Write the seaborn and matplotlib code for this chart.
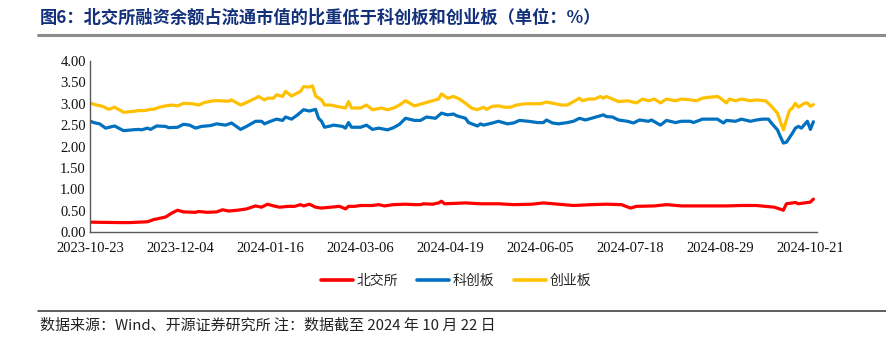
import matplotlib
matplotlib.use("Agg")
import matplotlib.pyplot as plt
import numpy as np
import pandas as pd
import seaborn as sns
from matplotlib.lines import Line2D
from matplotlib.font_manager import FontProperties

# ---------------- data (trading-day index, ratio in %) ----------------
tick_labels = ["2023-10-23", "2023-12-04", "2024-01-16", "2024-03-06", "2024-04-19",
               "2024-06-05", "2024-07-18", "2024-08-29", "2024-10-21"]
tick_positions = [0, 30, 60, 90, 120, 150, 180, 210, 240]
y_ticks = [0.0, 0.5, 1.0, 1.5, 2.0, 2.5, 3.0, 3.5, 4.0]
series_names = ["北交所", "科创板", "创业板"]

bjs_idx = [0, 10, 13, 19, 21, 25, 27, 29, 31, 35, 36, 39, 42, 44, 46, 49, 52, 55, 57, 59,
           61, 63, 66, 68, 70, 71, 73, 75, 77, 80, 83, 85, 86, 88, 90, 94, 96, 98, 101, 105,
           108, 110, 111, 114, 116, 117, 118, 125, 130, 136, 141, 147, 151, 156, 161, 167,
           172, 177, 180, 182, 188, 192, 197, 204, 208, 212, 217, 222, 228, 231, 232, 235,
           236, 240, 241]
bjs_val = [0.23, 0.22, 0.22, 0.24, 0.29, 0.35, 0.44, 0.51, 0.47, 0.46, 0.48, 0.46, 0.47, 0.52,
           0.49, 0.51, 0.54, 0.61, 0.58, 0.65, 0.61, 0.58, 0.60, 0.60, 0.64, 0.61, 0.65, 0.58,
           0.56, 0.58, 0.60, 0.54, 0.60, 0.60, 0.62, 0.62, 0.64, 0.61, 0.64, 0.65, 0.64, 0.64,
           0.66, 0.65, 0.68, 0.72, 0.66, 0.68, 0.66, 0.66, 0.64, 0.65, 0.68, 0.65, 0.62, 0.64,
           0.65, 0.64, 0.56, 0.60, 0.61, 0.64, 0.61, 0.61, 0.61, 0.61, 0.62, 0.62, 0.58, 0.51,
           0.66, 0.69, 0.66, 0.70, 0.77]

kcb_idx = [0, 1, 3, 5, 8, 11, 14, 16, 17, 19, 20, 22, 25, 26, 29, 31, 33, 35, 37, 40, 42, 45,
           47, 50, 52, 55, 57, 58, 60, 62, 64, 65, 67, 69, 71, 73, 75, 76, 77, 78, 80, 81, 84,
           85, 86, 87, 90, 92, 94, 96, 99, 101, 103, 105, 108, 110, 112, 115, 117, 119, 121,
           122, 125, 126, 129, 130, 131, 134, 136, 139, 141, 143, 146, 149, 151, 152, 154, 156,
           159, 161, 163, 165, 167, 169, 171, 172, 174, 176, 179, 181, 183, 186, 187, 190, 192,
           195, 197, 200, 201, 204, 207, 209, 211, 212, 215, 217, 220, 222, 224, 226, 227, 229,
           230, 231, 232, 234, 235, 236, 237, 239, 240, 241]
kcb_val = [2.59, 2.56, 2.53, 2.43, 2.48, 2.37, 2.39, 2.40, 2.39, 2.43, 2.40, 2.48, 2.47, 2.44,
           2.45, 2.52, 2.50, 2.43, 2.47, 2.49, 2.53, 2.50, 2.55, 2.40, 2.47, 2.59, 2.59, 2.53,
           2.59, 2.64, 2.61, 2.69, 2.64, 2.74, 2.86, 2.83, 2.87, 2.66, 2.59, 2.45, 2.48, 2.50,
           2.47, 2.43, 2.56, 2.45, 2.45, 2.50, 2.40, 2.43, 2.39, 2.44, 2.52, 2.66, 2.61, 2.61,
           2.69, 2.66, 2.78, 2.74, 2.76, 2.72, 2.66, 2.56, 2.48, 2.53, 2.50, 2.55, 2.59, 2.53,
           2.55, 2.61, 2.59, 2.56, 2.56, 2.62, 2.55, 2.53, 2.56, 2.59, 2.66, 2.62, 2.66, 2.70,
           2.74, 2.70, 2.69, 2.62, 2.59, 2.55, 2.62, 2.59, 2.62, 2.50, 2.61, 2.56, 2.59, 2.59,
           2.56, 2.64, 2.64, 2.64, 2.55, 2.61, 2.59, 2.64, 2.59, 2.62, 2.64, 2.64, 2.55, 2.39,
           2.23, 2.08, 2.10, 2.31, 2.43, 2.47, 2.43, 2.59, 2.40, 2.58]

cyb_idx = [0, 2, 4, 6, 8, 11, 14, 16, 18, 20, 21, 23, 25, 27, 29, 31, 34, 36, 38, 41, 43, 46,
           47, 50, 52, 55, 56, 58, 59, 61, 62, 64, 65, 67, 70, 71, 73, 74, 75, 77, 78, 80, 82,
           85, 86, 87, 90, 92, 94, 97, 99, 101, 103, 105, 108, 111, 114, 116, 117, 119, 121,
           123, 125, 127, 129, 131, 132, 134, 136, 138, 140, 142, 145, 148, 150, 152, 155, 157,
           159, 161, 163, 164, 166, 168, 170, 171, 172, 174, 176, 179, 182, 184, 186, 188, 190,
           192, 195, 197, 200, 202, 204, 206, 209, 210, 212, 213, 215, 217, 220, 222, 225, 226,
           227, 229, 230, 231, 232, 233, 234, 235, 236, 238, 239, 240, 241]
cyb_val = [3.01, 2.97, 2.94, 2.87, 2.92, 2.80, 2.82, 2.84, 2.84, 2.87, 2.87, 2.92, 2.95, 2.97,
           2.95, 3.01, 3.00, 2.97, 3.03, 3.07, 3.07, 3.06, 3.09, 2.97, 3.03, 3.13, 3.17, 3.09,
           3.13, 3.13, 3.21, 3.17, 3.29, 3.18, 3.29, 3.40, 3.39, 3.42, 3.18, 3.09, 2.97, 2.97,
           2.94, 2.90, 3.05, 2.90, 2.90, 2.97, 2.86, 2.90, 2.86, 2.90, 2.97, 3.07, 2.95, 3.01,
           3.07, 3.11, 3.23, 3.13, 3.17, 3.11, 3.01, 2.90, 2.86, 2.92, 2.87, 2.94, 2.95, 2.92,
           2.92, 2.97, 3.00, 3.00, 3.00, 3.04, 3.00, 2.97, 2.97, 3.05, 3.13, 3.07, 3.11, 3.11,
           3.17, 3.13, 3.17, 3.11, 3.05, 3.07, 3.02, 3.11, 3.07, 3.11, 3.02, 3.11, 3.07, 3.11,
           3.09, 3.07, 3.13, 3.15, 3.17, 3.13, 3.02, 3.11, 3.07, 3.11, 3.07, 3.09, 3.07, 3.01,
           2.94, 2.78, 2.58, 2.39, 2.62, 2.84, 2.90, 3.01, 2.92, 3.01, 3.02, 2.94, 2.98]

colors = ["#FF0000", "#0070C0", "#FFC000"]

title_text = "图6：北交所融资余额占流通市值的比重低于科创板和创业板（单位：%）"
source_text = "数据来源：Wind、开源证券研究所 注：数据截至 2024 年 10 月 22 日"

# ---------------- build frame ----------------
frames = []
for name, idx, val in zip(series_names, [bjs_idx, kcb_idx, cyb_idx], [bjs_val, kcb_val, cyb_val]):
    frames.append(pd.DataFrame({"day": idx, "value": val, "series": name}))
df = pd.concat(frames, ignore_index=True)

# ---------------- style ----------------
sns.set_style("white")
plt.rcParams["font.family"] = ["Liberation Serif", "Noto Sans CJK SC", "DejaVu Sans"]
cjk = ["Noto Sans CJK SC", "DejaVu Sans"]

W, H = 887, 348
fig = plt.figure(figsize=(W / 100, H / 100), dpi=100)
ax = fig.add_axes([90 / W, 116 / H, 727 / W, 171 / H])

sns.lineplot(data=df, x="day", y="value", hue="series", hue_order=series_names,
             palette=colors, linewidth=2.3, ax=ax, legend=False, sort=True)

ax.set_xlim(-0.2, 242.2)
ax.set_ylim(0, 4)
ax.set_xticks(tick_positions)
ax.set_xticklabels(tick_labels, fontsize=10.5, fontfamily="Liberation Serif")
ax.set_yticks(y_ticks)
ax.set_yticklabels([f"{v:.2f}" for v in y_ticks], fontsize=10.5, fontfamily="Liberation Serif")
ax.set_xlabel("")
ax.set_ylabel("")
for s in ["top", "right"]:
    ax.spines[s].set_visible(False)
for s in ["left", "bottom"]:
    ax.spines[s].set_color("#595959")
    ax.spines[s].set_linewidth(1.0)
ax.tick_params(axis="both", direction="in", length=3.5, width=0.9, color="#595959",
               labelcolor="#111111")
ax.tick_params(axis="x", pad=7)
ax.tick_params(axis="y", pad=3)
ax.grid(False)

handles = [Line2D([0], [0], color=c, lw=2.6) for c in colors]
fig.legend(handles, series_names, loc="center", bbox_to_anchor=(456 / W, 1 - 281 / H),
           ncol=3, frameon=False, prop=FontProperties(family=cjk, size=10),
           handlelength=2.3, handletextpad=0.25, columnspacing=1.4)

# title and decorations
fig.text(40 / W, 1 - 18 / H, title_text, fontsize=12.4, fontweight="bold", color="#13307A",
         family=cjk, va="center", ha="left")
fig.add_artist(Line2D([38 / W, 1.0], [1 - 35 / H, 1 - 35 / H], color="#8C8C8C", lw=2.2,
                      transform=fig.transFigure))
fig.add_artist(Line2D([38 / W, 1.0], [1 - 311 / H, 1 - 311 / H], color="#333333", lw=1.1,
                      transform=fig.transFigure))
fig.text(40 / W, 1 - 326 / H, source_text, fontsize=10.8, color="#222222",
         family=cjk, va="center", ha="left")

fig.savefig("out.png", dpi=100)
